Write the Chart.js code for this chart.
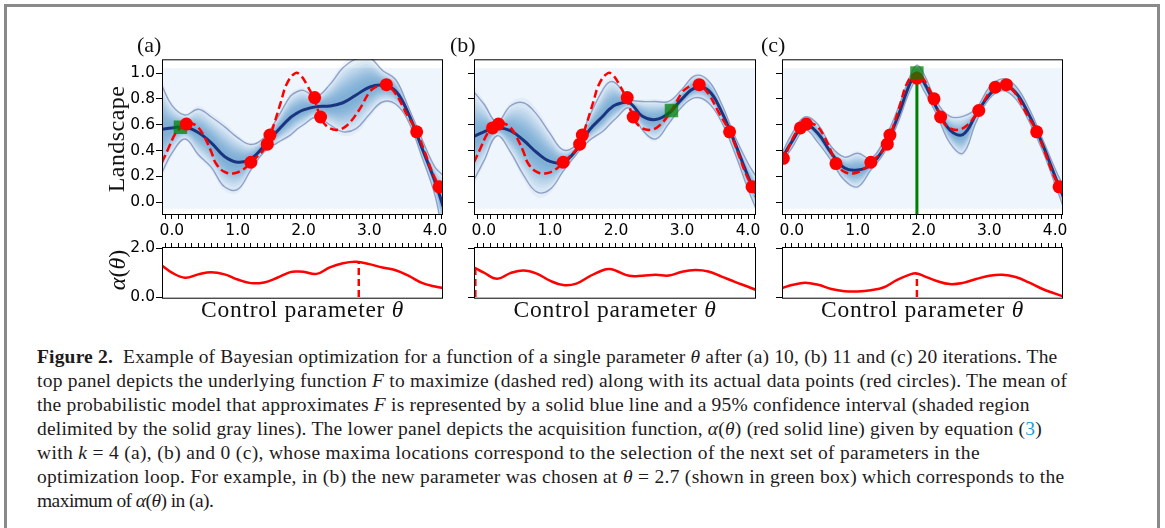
<!DOCTYPE html>
<html>
<head>
<meta charset="utf-8">
<title>Bayesian optimization example</title>
<script src="https://cdn.jsdelivr.net/npm/chart.js@4.4.1/dist/chart.umd.min.js"></script>
<style>
  html, body { margin: 0; padding: 0; background: #fff; }
  body { position: relative; width: 1165px; height: 528px; overflow: hidden;
         font-family: 'Liberation Serif', 'Times New Roman', serif; color: #111; }
  .frame { position: absolute; left: 4px; top: 4px; width: 1150px; height: 560px;
           border: 3px solid #8a8a8a; border-bottom: none; }
  canvas { position: absolute; }
  .txt { position: absolute; white-space: nowrap; line-height: 1; }
  .cap { color: #1e1b1c; }
  .cap .ref { color: #1a9bd7; }
</style>
</head>
<body>
<div class="frame"></div>
<script>
// ---- shared θ grid for model curves and acquisition functions ----
const theta = [-0.15, 0, 0.2, 0.4, 0.6, 0.8, 1.0, 1.2, 1.4, 1.6, 1.8, 1.9, 2.0, 2.2, 2.4, 2.6, 2.8, 3.0, 3.2, 3.4, 3.6, 3.8, 4.0, 4.12];

// underlying landscape F (dashed red)
const thetaF = [-0.15, -0.05, 0.05, 0.13, 0.22, 0.3, 0.4, 0.5, 0.6, 0.67, 0.8, 0.95, 1.1, 1.2, 1.3, 1.4, 1.47, 1.55, 1.65, 1.75, 1.88, 1.96, 2.05, 2.16, 2.26, 2.35, 2.5, 2.65, 2.84, 3.0, 3.09, 3.2, 3.26, 3.4, 3.55, 3.72, 3.85, 3.95, 4.06, 4.12];
const fTrue = [0.31, 0.42, 0.53, 0.575, 0.605, 0.61, 0.58, 0.50, 0.39, 0.30, 0.235, 0.225, 0.26, 0.31, 0.355, 0.41, 0.485, 0.60, 0.765, 0.92, 1.0, 0.98, 0.91, 0.80, 0.66, 0.59, 0.56, 0.59, 0.71, 0.85, 0.89, 0.91, 0.91, 0.84, 0.70, 0.545, 0.38, 0.24, 0.12, 0.04];

// GP posterior: mean and 95% bounds, panel (a) 10 iterations
const meanA  = [0.565, 0.575, 0.583, 0.54, 0.46, 0.355, 0.31, 0.335, 0.435, 0.55, 0.655, 0.69, 0.715, 0.74, 0.745, 0.77, 0.83, 0.89, 0.905, 0.86, 0.68, 0.42, 0.16, -0.03];
const upperA = [0.90, 0.75, 0.675, 0.72, 0.66, 0.585, 0.50, 0.447, 0.50, 0.65, 0.82, 0.855, 0.866, 0.82, 0.91, 1.04, 1.11, 1.12, 1.02, 0.95, 0.73, 0.49, 0.27, 0.21];
const lowerA = [0.23, 0.38, 0.49, 0.37, 0.27, 0.12, 0.10, 0.25, 0.39, 0.46, 0.52, 0.565, 0.60, 0.66, 0.60, 0.545, 0.57, 0.68, 0.776, 0.76, 0.62, 0.35, 0.05, -0.27];
// panel (b) 11 iterations
const meanB  = [0.51, 0.545, 0.575, 0.555, 0.48, 0.385, 0.316, 0.31, 0.405, 0.56, 0.665, 0.72, 0.755, 0.77, 0.665, 0.64, 0.69, 0.80, 0.885, 0.865, 0.70, 0.46, 0.20, 0.07];
const upperB = [0.854, 0.76, 0.62, 0.745, 0.77, 0.68, 0.533, 0.405, 0.45, 0.67, 0.87, 0.93, 0.92, 0.80, 0.78, 0.78, 0.78, 0.875, 0.98, 0.94, 0.76, 0.51, 0.30, 0.20];
const lowerB = [0.174, 0.32, 0.515, 0.39, 0.21, 0.08, 0.10, 0.24, 0.37, 0.48, 0.55, 0.60, 0.65, 0.73, 0.56, 0.49, 0.61, 0.74, 0.81, 0.77, 0.62, 0.38, 0.10, -0.05];
// panel (c) 20 iterations
const meanC  = [0.34, 0.47, 0.60, 0.53, 0.38, 0.265, 0.25, 0.29, 0.42, 0.65, 0.925, 0.995, 0.935, 0.73, 0.56, 0.525, 0.68, 0.83, 0.905, 0.85, 0.68, 0.46, 0.20, 0.05];
const upperC = [0.38, 0.53, 0.66, 0.60, 0.43, 0.35, 0.38, 0.34, 0.48, 0.71, 0.98, 1.06, 1.00, 0.78, 0.665, 0.665, 0.725, 0.89, 0.955, 0.90, 0.73, 0.50, 0.26, 0.13];
const lowerC = [0.31, 0.42, 0.56, 0.46, 0.32, 0.17, 0.12, 0.25, 0.38, 0.60, 0.87, 0.944, 0.87, 0.68, 0.46, 0.38, 0.62, 0.80, 0.865, 0.80, 0.63, 0.41, 0.14, -0.03];

// evaluated samples (red circles)
const sampleXA = [0.22, 1.20, 1.45, 1.49, 2.17, 2.26, 3.26, 3.72, 4.06];
const sampleYA = [0.605, 0.31, 0.45, 0.52, 0.81, 0.66, 0.91, 0.545, 0.12];
const sampleXB = [0.13, 0.22, 1.20, 1.45, 1.49, 2.17, 2.26, 3.26, 3.72, 4.06];
const sampleYB = [0.575, 0.605, 0.31, 0.45, 0.52, 0.81, 0.66, 0.91, 0.545, 0.12];
const sampleXC = [-0.13, 0.13, 0.22, 0.67, 1.20, 1.45, 1.49, 1.90, 2.16, 2.26, 2.84, 3.09, 3.26, 3.72, 4.06];
const sampleYC = [0.34, 0.575, 0.605, 0.30, 0.31, 0.45, 0.52, 0.96, 0.80, 0.66, 0.71, 0.89, 0.91, 0.545, 0.12];

// latest parameter (green box) per panel
const newestX = [0.13, 2.84, 1.90];
const newestY = [0.58, 0.71, 1.00];

// acquisition function α(θ)
const acqA = [1.29, 1.0, 0.79, 0.93, 1.02, 0.93, 0.72, 0.57, 0.60, 0.79, 1.02, 1.05, 1.04, 0.95, 1.22, 1.39, 1.45, 1.35, 1.21, 1.10, 0.87, 0.58, 0.43, 0.37];
const acqB = [1.22, 1.0, 0.75, 0.98, 1.09, 0.96, 0.67, 0.49, 0.55, 0.85, 1.10, 1.15, 1.08, 0.87, 0.87, 0.91, 0.88, 1.04, 1.11, 1.05, 0.84, 0.62, 0.42, 0.29];
const acqC = [0.37, 0.49, 0.59, 0.50, 0.33, 0.24, 0.23, 0.28, 0.40, 0.70, 0.93, 0.97, 0.87, 0.66, 0.53, 0.58, 0.74, 0.87, 0.91, 0.82, 0.60, 0.34, 0.14, 0.03];
// maximum of α(θ): next θ and its value
const acqMaxX = [2.84, -0.13, 1.90];
const acqMaxY = [1.45, 1.22, 0.97];

// axis ticks
const xMajor = [0, 1, 2, 3, 4];
const landscapeTicks = [0, 0.2, 0.4, 0.6, 0.8, 1.0];
const alphaTicks = [0, 2];

// ---- styling ----
const X_MIN = -0.15, X_MAX = 4.12;
const RED = '#ff0000';
const MEAN = '#1b3480';
const BOUND = 'rgba(110,128,178,0.7)';
const SHADE = 'rgba(33,113,181,0.06)';
const GREEN = 'rgba(0,128,0,0.72)';
const TICK_FONT = { family: "'DejaVu Sans',sans-serif", size: 15.5 };

Chart.defaults.font.family = TICK_FONT.family;
Chart.defaults.color = '#000';

// minor tick positions every 0.1 along θ
const xMinor = [];
for (let v = -1; v <= 41; v++) xMinor.push(v / 10);

const xy = (xs, ys) => xs.map((x, i) => ({ x, y: ys[i] }));

// stacked translucent bands between the bounds: band radii are chosen so the
// overlap count falls off like a normal density (bounds sit at 2 sigma)
function densityBands(mean, upper, lower, n) {
  const sets = [];
  for (let j = 1; j <= n; j++) {
    const s = Math.sqrt(Math.log((n + 1) / j) / 2);
    sets.push({ data: xy(theta, mean.map((m, i) => m + (upper[i] - m) * s)), borderColor: 'transparent',
                backgroundColor: SHADE, fill: '+1', pointRadius: 0, tension: 0.4, order: 30 });
    sets.push({ data: xy(theta, mean.map((m, i) => m - (m - lower[i]) * s)), borderColor: 'transparent',
                fill: false, pointRadius: 0, tension: 0.4, order: 30 });
  }
  return sets;
}

// pale image extent behind the shading plus the black frame round the axes
const framePlugin = {
  id: 'frame',
  beforeDatasetsDraw(chart, args, opts) {
    if (!opts.extent) return;
    const { ctx, chartArea, scales: { y } } = chart;
    ctx.save();
    ctx.beginPath();
    ctx.rect(chartArea.left, chartArea.top, chartArea.width, chartArea.height);
    ctx.clip();
    ctx.fillStyle = '#eef5fc';
    const y0 = y.getPixelForValue(opts.extent[1]), y1 = y.getPixelForValue(opts.extent[0]);
    ctx.fillRect(chartArea.left, y0, chartArea.width, y1 - y0);
    ctx.restore();
  },
  afterDatasetsDraw(chart) {
    const { ctx, chartArea: a } = chart;
    ctx.save();
    ctx.strokeStyle = '#000';
    ctx.lineWidth = 1;
    ctx.strokeRect(a.left + 0.5, a.top + 0.5, a.width - 1, a.height - 1);
    ctx.restore();
  }
};

function axisX(position, labels, height) {
  return {
    type: 'linear', position, min: X_MIN, max: X_MAX,
    afterBuildTicks: s => { s.ticks = xMinor.map(v => ({ value: v })); },
    afterFit: s => { s.height = height; },
    grid: { drawOnChartArea: false, drawTicks: true, tickLength: 4, tickColor: '#000', color: '#000' },
    border: { display: false },
    ticks: {
      autoSkip: false, maxRotation: 0, padding: 3, font: TICK_FONT, color: '#000',
      callback: v => (labels && xMajor.some(m => Math.abs(m - v) < 1e-6)) ? v.toFixed(1) : ''
    }
  };
}

function axisY(min, max, values, labels) {
  return {
    type: 'linear', min, max,
    afterBuildTicks: s => { s.ticks = values.map(v => ({ value: v })); },
    afterFit: s => { s.width = 62; },
    grid: { drawOnChartArea: false, drawTicks: true, tickLength: 6, tickColor: '#000', color: '#000' },
    border: { display: false },
    ticks: { autoSkip: false, padding: 1, font: TICK_FONT, color: '#000',
             callback: v => labels ? v.toFixed(1) : '' }
  };
}

function makeCanvas(left, top, width, height) {
  const c = document.createElement('canvas');
  c.width = width; c.height = height;
  c.style.left = left + 'px'; c.style.top = top + 'px';
  c.style.width = width + 'px'; c.style.height = height + 'px';
  document.body.appendChild(c);
  return c;
}

const baseOptions = (padding, scales, extent) => ({
  responsive: false, animation: false, events: [],
  layout: { padding },
  scales,
  plugins: { legend: { display: false }, tooltip: { enabled: false }, frame: { extent } }
});

// plot boxes in page pixels
const TOP_T = 59, TOP_B = 215, BOT_T = 247, BOT_B = 299;
const panels = [
  { tag: '(a)', left: 162, right: 443, mean: meanA, upper: upperA, lower: lowerA, sx: sampleXA, sy: sampleYA, acq: acqA, labels: true,  boxOnTop: false, guide: false },
  { tag: '(b)', left: 474, right: 756, mean: meanB, upper: upperB, lower: lowerB, sx: sampleXB, sy: sampleYB, acq: acqB, labels: false, boxOnTop: false, guide: false },
  { tag: '(c)', left: 782, right: 1063, mean: meanC, upper: upperC, lower: lowerC, sx: sampleXC, sy: sampleYC, acq: acqC, labels: false, boxOnTop: true, guide: true }
];

panels.forEach((p, i) => {
  const w = p.right - p.left + 62 + 16;

  // landscape panel
  const top = makeCanvas(p.left - 62, TOP_T - 10, w, 10 + (TOP_B - TOP_T) + 30);
  const sets = densityBands(p.mean, p.upper, p.lower, 12);
  sets.push(
    { data: xy(theta, p.upper), borderColor: BOUND, borderWidth: 1.4, pointRadius: 0, tension: 0.4, fill: false, order: 20 },
    { data: xy(theta, p.lower), borderColor: BOUND, borderWidth: 1.4, pointRadius: 0, tension: 0.4, fill: false, order: 20 },
    { data: xy(theta, p.mean), borderColor: MEAN, borderWidth: 3, pointRadius: 0, tension: 0.4, fill: false, order: 15 },
    { data: xy(thetaF, fTrue), borderColor: RED, borderWidth: 2.5, borderDash: [8, 4], pointRadius: 0, tension: 0.4, fill: false, order: 10 },
    { data: xy(p.sx, p.sy), showLine: false, pointRadius: 6.5, pointBackgroundColor: RED, pointBorderWidth: 0, order: 4 },
    { data: [{ x: newestX[i], y: newestY[i] }], showLine: false, pointStyle: 'rect', pointRadius: 9.5,
      pointBackgroundColor: GREEN, pointBorderWidth: 0, order: p.boxOnTop ? 2 : 6 }
  );
  if (p.guide) {
    sets.push({ data: [{ x: newestX[i], y: -0.2 }, { x: newestX[i], y: newestY[i] }], borderColor: '#008000',
                borderWidth: 3, pointRadius: 0, fill: false, order: 5 });
  }
  new Chart(top, {
    type: 'line',
    data: { datasets: sets },
    options: baseOptions({ top: 10, right: 16, left: 0, bottom: 0 },
      { x: axisX('bottom', true, 30), y: axisY(-0.098, 1.106, landscapeTicks, p.labels) }, [-0.05, 1.04]),
    plugins: [framePlugin]
  });

  // acquisition panel
  const bot = makeCanvas(p.left - 62, BOT_T - 12, w, 12 + (BOT_B - BOT_T) + 10);
  new Chart(bot, {
    type: 'line',
    data: { datasets: [
      { data: xy(theta, p.acq), borderColor: RED, borderWidth: 2.5, pointRadius: 0, tension: 0.4, fill: false },
      { data: [{ x: acqMaxX[i], y: 0 }, { x: acqMaxX[i], y: acqMaxY[i] }], borderColor: RED, borderWidth: 2.5,
        borderDash: [7, 4], pointRadius: 0, fill: false }
    ] },
    options: baseOptions({ top: 4, right: 16, left: 0, bottom: 10 },
      { x: axisX('top', false, 8), y: axisY(-0.069, 2.053, alphaTicks, p.labels) }, null),
    plugins: [framePlugin]
  });
});

// ---- text: panel tags, axis titles, caption ----
const ASC = 0.8375; // baseline offset for line-height 1 with Liberation Serif

function addText(html, fs, cls) {
  const el = document.createElement('div');
  el.className = 'txt ' + (cls || '');
  el.style.fontSize = fs + 'px';
  el.innerHTML = html;
  document.body.appendChild(el);
  return el;
}
function fitWidth(el, target) {
  const w = el.offsetWidth;
  const n = el.textContent.length;
  el.style.letterSpacing = ((target - w) / n) + 'px';
}
function atBaseline(el, left, baseline, fs) {
  el.style.left = left + 'px';
  el.style.top = (baseline - ASC * fs) + 'px';
}
function rotatedTitle(html, fs, cx, cy, length) {
  const el = addText(html, fs);
  fitWidth(el, length);
  el.style.left = (cx - el.offsetWidth / 2) + 'px';
  el.style.top = (cy - el.offsetHeight / 2) + 'px';
  el.style.transform = 'rotate(-90deg)';
}

const tagX = [137, 450, 761];
panels.forEach((p, i) => {
  atBaseline(addText(p.tag, 22), tagX[i], 52, 22);
  const t = addText('Control parameter <i>θ</i>', 23.5);
  fitWidth(t, 203);
  atBaseline(t, (p.left + p.right) / 2 - 203 / 2, 318, 23.5);
});
rotatedTitle('Landscape', 24, 116, 138.5, 107);
rotatedTitle('<i>α</i>(<i>θ</i>)', 24, 117, 270, 40);

const captionLines = [
  '<b>Figure 2.</b>&nbsp;&nbsp;Example of Bayesian optimization for a function of a single parameter <i>θ</i> after (a) 10, (b) 11 and (c) 20 iterations. The',
  'top panel depicts the underlying function <i>F</i> to maximize (dashed red) along with its actual data points (red circles). The mean of',
  'the probabilistic model that approximates <i>F</i> is represented by a solid blue line and a 95% confidence interval (shaded region',
  'delimited by the solid gray lines). The lower panel depicts the acquisition function, <i>α</i>(<i>θ</i>) (red solid line) given by equation (<span class="ref">3</span>)',
  'with <i>k</i> = 4 (a), (b) and 0 (c), whose maxima locations correspond to the selection of the next set of parameters in the',
  'optimization loop. For example, in (b) the new parameter was chosen at <i>θ</i> = 2.7 (shown in green box) which corresponds to the',
  'maximum of <i>α</i>(<i>θ</i>) in (a).'
];
const captionWidths = [1020, 1030, 993, 1005, 943, 1028, 176];
captionLines.forEach((html, i) => {
  const el = addText(html, 19.5, 'cap');
  fitWidth(el, captionWidths[i]);
  atBaseline(el, 37, 363 + 24 * i, 19.5);
});
</script>
</body>
</html>
